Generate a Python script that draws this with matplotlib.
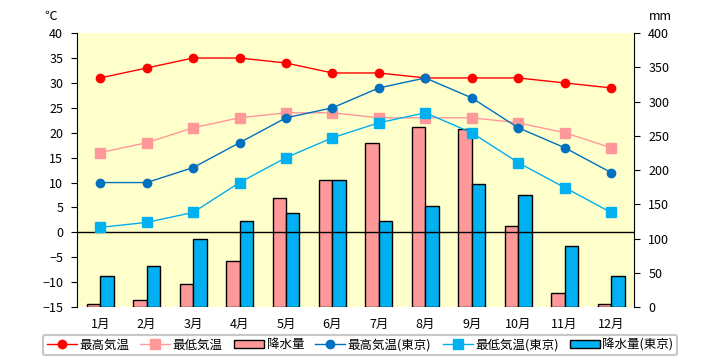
import numpy as np
import matplotlib
matplotlib.use("Agg")
import matplotlib.pyplot as plt

plt.rcParams['font.family'] = ['Noto Sans CJK JP', 'DejaVu Sans']

# --- données ---
months = ["1月", "2月", "3月", "4月", "5月", "6月", "7月", "8月", "9月", "10月", "11月", "12月"]
temp_max = [31, 33, 35, 35, 34, 32, 32, 31, 31, 31, 30, 29]
temp_min = [16, 18, 21, 23, 24, 24, 23, 23, 23, 22, 20, 17]
rain = [4, 10, 33, 67, 159, 185, 240, 263, 260, 119, 20, 4]
tokyo_max = [10, 10, 13, 18, 23, 25, 29, 31, 27, 21, 17, 12]
tokyo_min = [1, 2, 4, 10, 15, 19, 22, 24, 20, 14, 9, 4]
tokyo_rain = [45, 60, 100, 125, 138, 185, 126, 148, 180, 164, 89, 46]

x = np.arange(len(months))
w = 0.29

fig = plt.figure(figsize=(7.2, 3.6), dpi=100)
ax = fig.add_axes([0.107, 0.147, 0.774, 0.761])
ax2 = ax.twinx()

# barres sur l'axe mm, courbes sur l'axe température (au-dessus)
ax.set_zorder(ax2.get_zorder() + 1)
ax.patch.set_visible(False)
ax2.patch.set_visible(True)
ax2.set_facecolor("#FFFFCC")

b1 = ax2.bar(x - w / 2, rain, w, color="#FF9999", edgecolor="black", lw=1, label="降水量")
b2 = ax2.bar(x + w / 2, tokyo_rain, w, color="#00B0F0", edgecolor="black", lw=1, label="降水量(東京)")

ax.axhline(0, color="black", lw=1)
l1, = ax.plot(x, temp_max, color="#FF0000", marker="o", ms=6, lw=1, label="最高気温")
l2, = ax.plot(x, temp_min, color="#FF9999", marker="s", ms=7, lw=1, label="最低気温")
l3, = ax.plot(x, tokyo_max, color="#0070C0", marker="o", ms=6, lw=1, label="最高気温(東京)")
l4, = ax.plot(x, tokyo_min, color="#00B0F0", marker="s", ms=7, lw=1, label="最低気温(東京)")

ax.set_xlim(-0.5, 11.5)
ax.set_ylim(-15, 40)
ax.set_yticks(range(-15, 41, 5))
ax2.set_ylim(0, 400)
ax2.set_yticks(range(0, 401, 50))
ax.set_xticks(x)
ax.set_xticklabels(months)

for a in (ax, ax2):
    a.spines["top"].set_visible(False)
    a.spines["bottom"].set_visible(False)
ax.spines["right"].set_visible(False)
ax2.spines["left"].set_visible(False)
ax.tick_params(axis="x", length=0, pad=8, labelsize=9)
ax.tick_params(axis="y", length=4, labelsize=9, pad=6)
ax2.tick_params(axis="y", length=4, labelsize=9, pad=6)

fig.text(0.07, 0.955, "℃", fontsize=9, ha="center", va="center")
fig.text(0.917, 0.955, "mm", fontsize=9, ha="center", va="center")

leg = fig.legend([l1, l2, b1, l3, l4, b2],
                 ["最高気温", "最低気温", "降水量", "最高気温(東京)", "最低気温(東京)", "降水量(東京)"],
                 loc="center", bbox_to_anchor=(0.5, 0.042), ncol=6, fontsize=9,
                 fancybox=True, edgecolor="#BBBBBB", handlelength=2.4,
                 columnspacing=0.9, handletextpad=0.2, borderpad=0.3)
leg.get_frame().set_linewidth(1.5)

fig.savefig("out.png", dpi=100)
